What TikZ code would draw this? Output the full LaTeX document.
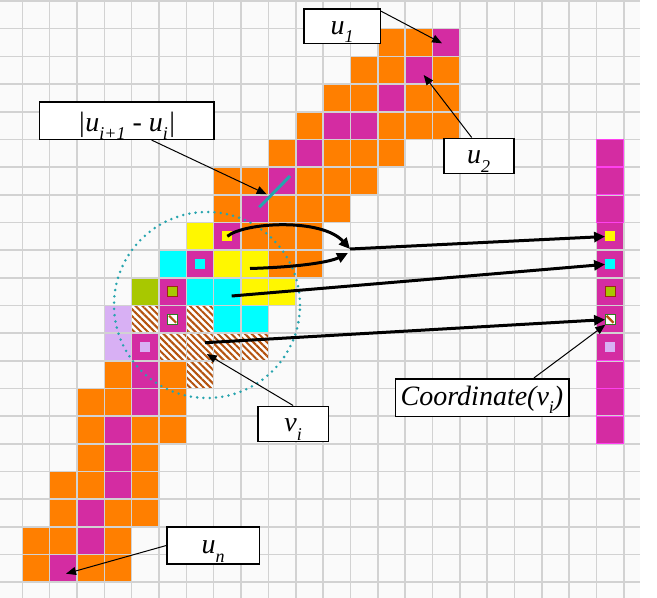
\documentclass[tikz,border=0pt]{standalone}
\usepackage{fontspec}
\setmainfont{Liberation Serif}
\usetikzlibrary{arrows.meta,patterns.meta,calc}

\definecolor{gridgrey}{HTML}{D2D2D2}
\definecolor{paper}{HTML}{FAFAFA}
\definecolor{cellorange}{HTML}{FF7F00}
\definecolor{cellmagenta}{HTML}{D42CA2}
\definecolor{brightmagenta}{HTML}{FF40F0}
\definecolor{cellyellow}{HTML}{FFF700}
\definecolor{cellcyan}{HTML}{00FFFF}
\definecolor{cellgreen}{HTML}{A8C800}
\definecolor{celllilac}{HTML}{D8B0F4}
\definecolor{hatchbrown}{HTML}{B4520E}
\definecolor{rimred}{HTML}{9A2A10}
\definecolor{rimgreen}{HTML}{2E7D22}
\definecolor{ringteal}{HTML}{26A4AE}

% lowered, smaller index used in the labels
\newcommand\lowsub[1]{\raisebox{-0.3em}{\fontsize{18}{18}\selectfont #1}}

\tikzset{
  gridline/.style={draw=gridgrey, line width=1.6pt},
  hatched/.style={pattern={Lines[angle=-45,distance=4.8pt,line width=2pt]}, pattern color=hatchbrown},
  smallsq/.style={minimum size=10pt, inner sep=0pt, outer sep=0pt, line width=1.2pt},
  labelbox/.style={draw=black, fill=white, line width=1.6pt, inner sep=0pt,
    font=\fontsize{28}{30}\selectfont\itshape, text height=22pt, text depth=6pt},
  thinarrow/.style={draw=black, line width=1pt, -{Triangle[length=10pt,width=8pt]}},
  thickarrow/.style={draw=black, line width=3pt, -{Triangle[length=11pt,width=10pt]}},
}

\begin{document}
\begin{tikzpicture}[x=1pt,y=-1pt]
\useasboundingbox (0,0) rectangle (657,598);
\fill[white] (0,0) rectangle (657,598);

\begin{scope}
  \clip (0,0) rectangle (640,598);
  \fill[paper] (0,0) rectangle (640,598);
  % orange body of the stroke
  \foreach \c/\r in {13/1,14/1, 12/2,13/2,15/2, 11/3,12/3,14/3,15/3,
      10/4,13/4,14/4,15/4, 9/5,11/5,12/5,13/5, 7/6,8/6,10/6,11/6,12/6,
      7/7,9/7,10/7,11/7, 8/8,9/8,10/8, 9/9,10/9,
      3/13,5/13, 2/14,3/14,5/14, 2/15,4/15,5/15, 2/16,4/16,
      1/17,2/17,4/17, 1/18,3/18,4/18, 0/19,1/19,3/19, 0/20,2/20,3/20}
    \fill[cellorange] ({22.3+27.34*\c},{1+27.68*\r}) rectangle ++(27.34,27.68);
  % skeleton cells and the coordinate column
  \foreach \c/\r in {15/1,14/2,13/3,11/4,12/4,10/5,9/6,8/7,7/8,6/9,5/10,5/11,
      4/12,4/13,4/14,3/15,3/16,3/17,2/18,2/19,1/20,
      21/5,21/6,21/7,21/8,21/9,21/10,21/11,21/12,21/13,21/14,21/15}
    \fill[cellmagenta] ({22.3+27.34*\c},{1+27.68*\r}) rectangle ++(27.34,27.68);
  % neighbourhood of v_i
  \foreach \c/\r in {6/8,7/9,8/9,8/10,9/10}
    \fill[cellyellow] ({22.3+27.34*\c},{1+27.68*\r}) rectangle ++(27.34,27.68);
  \foreach \c/\r in {5/9,6/10,7/10,7/11,8/11}
    \fill[cellcyan] ({22.3+27.34*\c},{1+27.68*\r}) rectangle ++(27.34,27.68);
  \fill[cellgreen] ({22.3+27.34*4},{1+27.68*10}) rectangle ++(27.34,27.68);
  \foreach \c/\r in {3/11,3/12}
    \fill[celllilac] ({22.3+27.34*\c},{1+27.68*\r}) rectangle ++(27.34,27.68);
  \foreach \c/\r in {4/11,6/11,5/12,6/12,7/12,8/12,6/13}{
    \fill[white] ({22.3+27.34*\c},{1+27.68*\r}) rectangle ++(27.34,27.68);
    \fill[hatched] ({22.3+27.34*\c},{1+27.68*\r}) rectangle ++(27.34,27.68);
  }
  % grid
  \foreach \k in {0,...,22} \draw[gridline] ({22.3+27.34*\k},0) -- ++(0,598);
  \foreach \k in {0,...,21} \draw[gridline] (0,{1+27.68*\k}) -- ++(640,0);
  \foreach \r in {5,6,7,13,14,15}
    \draw[brightmagenta, line width=1.2pt] ({22.3+27.34*21},{1+27.68*\r}) rectangle ++(27.34,27.68);
\end{scope}

% marks inside the skeleton cells
\node[smallsq, fill=cellyellow] (gY) at ({35.97+27.34*7},{14.84+27.68*8}) {};
\node[smallsq, fill=cellcyan] (gC) at ({35.97+27.34*6},{14.84+27.68*9}) {};
\node[smallsq, fill=cellgreen, draw=rimred] (gG) at ({35.97+27.34*5},{14.84+27.68*10}) {};
\node[smallsq, fill=white, draw=rimgreen] (gH) at ({35.97+27.34*5},{14.84+27.68*11}) {};
\draw[hatchbrown, line width=2.2pt] ($(gH.north west)+(1.5,1.5)$) -- ($(gH.south east)+(-1.5,-1.5)$);
\node[smallsq, fill=celllilac] (gL) at ({35.97+27.34*4},{14.84+27.68*12}) {};
% the same marks in the coordinate column
\node[smallsq, fill=cellyellow] (rY) at ({35.97+27.34*21},{14.84+27.68*8}) {};
\node[smallsq, fill=cellcyan] (rC) at ({35.97+27.34*21},{14.84+27.68*9}) {};
\node[smallsq, fill=cellgreen, draw=rimred] (rG) at ({35.97+27.34*21},{14.84+27.68*10}) {};
\node[smallsq, fill=white, draw=rimgreen] (rH) at ({35.97+27.34*21},{14.84+27.68*11}) {};
\draw[hatchbrown, line width=2.2pt] ($(rH.north west)+(1.5,1.5)$) -- ($(rH.south east)+(-1.5,-1.5)$);
\node[smallsq, fill=celllilac] (rL) at ({35.97+27.34*21},{14.84+27.68*12}) {};

% distance between two consecutive skeleton points
\draw[ringteal, line width=3pt] (290,176) -- (259.3,207.3);
% neighbourhood circle
\draw[ringteal, line width=2.8pt, line cap=round, dash pattern=on 0pt off 6.3pt] (207,305) circle[radius=93pt];

% labels
\node[labelbox, minimum width=174.7pt, minimum height=37.6pt, text depth=0pt] (dlab) at (126.65,120.5) {|u\lowsub{i+1} - u\lowsub{i}|};
\node[labelbox, minimum width=76.3pt, minimum height=34.3pt] (u1lab) at (342.15,26.15) {u\lowsub{1}};
\node[labelbox, minimum width=70pt, minimum height=35pt] (u2lab) at (478.7,155.8) {u\lowsub{2}};
\node[labelbox, minimum width=70.8pt, minimum height=35pt] (vlab) at (293.1,423.8) {v\lowsub{i}};
\node[labelbox, minimum width=173.4pt, minimum height=37.6pt] (colab) at (482,397.5) {Coordinate(v\lowsub{i})};
\node[labelbox, minimum width=92.6pt, minimum height=36.7pt] (unlab) at (213,545.6) {u\lowsub{n}};

% label pointers
\coordinate (tipU1) at (442,43.3);
\coordinate (tipU2) at (423.7,75);
\coordinate (tipD) at (266.7,194.3);
\coordinate (tipV) at (206.7,354);
\coordinate (tipCo) at (605.3,324.7);
\coordinate (tipUn) at (66,573.7);
\draw[thinarrow] ($(u1lab.north east)+(0,3)$) -- (tipU1);
\draw[thinarrow] ([xshift=-7pt]u2lab.north) -- (tipU2);
\draw[thinarrow] ([xshift=25pt]dlab.south) -- (tipD);
\draw[thinarrow] (vlab.north) -- (tipV);
\draw[thinarrow] ([xshift=52pt]colab.north) -- (tipCo);
\draw[thinarrow] (unlab.west) -- (tipUn);

% mapping of the neighbourhood into the coordinate column
\coordinate (hub) at (350,249);
\coordinate (hubB) at (348,253);
\coordinate (fromB) at (250,268.5);
\coordinate (fromD) at (231.7,296);
\coordinate (fromE) at (205,342.7);
\draw[thickarrow] (gY.center) .. controls (245,222) and (322,218) .. (hub);
\draw[thickarrow] (fromB) .. controls (300,267) and (330,262) .. (hubB);
\draw[thickarrow] (hub) -- (rY);
\draw[thickarrow] (fromD) -- (rC);
\draw[thickarrow] (fromE) -- (rH);
\end{tikzpicture}
\end{document}
